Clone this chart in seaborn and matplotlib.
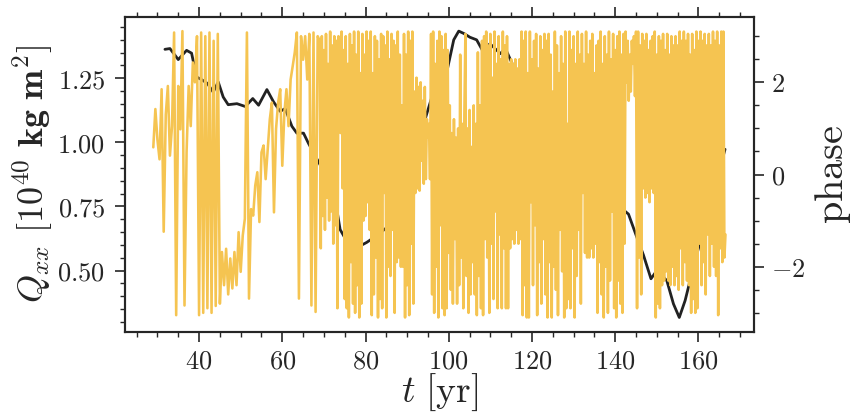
import numpy as np
import pandas as pd
import matplotlib
matplotlib.use('Agg')
import matplotlib.pyplot as plt
import seaborn as sns
from matplotlib.ticker import MultipleLocator, FuncFormatter

# Q_xx curve [1e40 kg m^2]
t_q = [31.8, 33.0, 35.0, 37.0, 38.2, 39.4, 40.6, 42.0, 43.4, 44.6, 45.8, 47.0,
       49.1, 51.1, 52.9, 54.3, 56.3, 57.9, 59.5, 60.7, 62.3, 63.5, 65.1, 66.3,
       68.5, 70.5, 72.3, 73.9, 76.0, 78.0, 80.3, 83.0, 85.5, 87.5, 89.1, 90.3,
       91.5, 93.1, 94.5, 96.3, 97.8, 99.6, 101.2, 102.4, 103.6, 105.1, 106.7,
       108.3, 109.9, 112.4, 113.6, 115.6, 118.4, 119.6, 122.0, 124.4, 127.0,
       129.6, 132.0, 134.5, 137.1, 138.8, 141.0, 143.2, 145.2, 146.8, 148.6,
       150.0, 152.4, 154.0, 155.4, 156.8, 158.8, 161.2, 162.8, 164.4, 166.4]
q_xx = [1.363, 1.366, 1.323, 1.359, 1.348, 1.255, 1.245, 1.23, 1.196, 1.236,
        1.177, 1.147, 1.151, 1.14, 1.171, 1.145, 1.206, 1.158, 1.121, 1.132,
        1.063, 1.036, 1.036, 0.996, 0.93, 0.87, 0.816, 0.66, 0.60, 0.59, 0.61,
        0.64, 0.673, 0.71, 0.751, 0.80, 0.88, 1.0, 1.1, 1.196, 1.25, 1.28, 1.40,
        1.434, 1.425, 1.41, 1.40, 1.353, 1.385, 1.346, 1.367, 1.294, 1.203,
        1.125, 1.06, 1.02, 0.99, 0.97, 0.93, 0.90, 0.867, 0.80, 0.75, 0.72,
        0.63, 0.56, 0.468, 0.50, 0.461, 0.37, 0.317, 0.383, 0.513, 0.66, 0.777,
        0.855, 0.973]

# phase, every half year from t = 29 to 68.5
phase_early = [
    0.59, 1.42, 0.75, 0.33, 1.85, -1.24, 1.30, 1.92, 0.41, 1.05,
    3.08, -3.05, 1.92, 0.98, 3.11, -2.84, 0.49, 1.92, 1.05, 2.43,
    2.0, 3.0, -3.05, 3.08, -3.0, 3.0, -2.9, 3.08, -3.0, 2.9,
    -2.85, 3.05, -2.8, -1.68, -2.4, -1.61, -2.6, -1.82, -2.47, -1.68,
    -2.4, -1.25, -2.11, -1.32, -0.96, 3.08, -2.69, -0.75, -0.89, -0.24,
    0.05, -1.03, 0.48, 0.63, -0.1, 0.55, 1.2, 1.56, -0.82, 0.99,
    1.56, 1.85, 0.19, 1.34, 1.85, 1.05, 2.06, 2.35, 2.65, 3.08,
    -2.69, 3.0, 2.49, 3.0, 2.06, 3.05, -2.84, 3.08, -2.98, 3.0,
]
# phase, every quarter year from t = 69 to 166.5
phase_late = [
    2.9, -1.6, 3.0, -0.9, 2.7, -1.2, 3.05, -0.5, 2.4, -1.0, 3.1, -0.8, 2.8, -1.5, 3.0, -1.1, 2.9, -2.9, 3.0, 1.2,
    0.9, 3.1, -0.3, 2.7, -2.7, 3.0, -2.9, 2.4, -3.1, 3.05, -1.9, 2.8, -2.8, 3.1, -3.0, 2.6, -2.4, 3.1, -3.1, 2.2,
    -2.8, 3.05, -1.0, 2.6, -0.9, 3.1, -0.6, 2.9, -1.2, 3.1, -3.05, 2.2, -2.6, 3.0, -1.8, 2.9, -3.1, 2.5, -2.7, 3.05,
    -2.9, 3.0, -0.4, 2.8, -3.1, 3.1, -2.0, 2.5, -2.2, 3.05, -1.2, 2.9, -3.0, 2.8, -1.9, 3.1, -1.8, 2.6, -2.0, 1.5,
    -2.0, 3.05, -3.1, 2.6, -2.4, 3.1, -3.05, 2.9, -1.5, 3.1, -2.8, 1.8, -0.4, 2.1, -0.3, 1.9, -0.35, 2.0, 0.3, 1.6,
    -0.2, 1.9, -0.1, 1.2, 0.8, 1.1, -0.1, 3.05, -2.6, 3.1, -3.0, 2.4, -2.0, 2.9, -3.1, 3.1, -1.1, 3.0, -2.9, 2.7,
    -3.05, 3.05, -2.9, 2.7, -1.7, 1.5, -2.5, 0.9, -2.8, 1.2, -1.4, 0.8, -2.8, 1.0, -2.4, 2.6, -1.8, 1.1, -2.9, 1.3,
    3.05, -2.2, 1.0, -3.0, 1.4, -2.6, 0.6, -1.9, 1.5, -2.6, 1.1, -3.05, 2.65, -2.2, 1.5, -2.9, 2.9, -3.05, 3.0, -1.4,
    3.1, -1.8, 2.8, -3.0, 3.05, -1.5, 2.1, -2.7, 3.1, -0.8, 2.4, -2.9, 3.0, -1.3, 2.5, -2.9, 3.1, -1.6, 2.8, -2.9,
    3.0, -2.9, 2.4, -1.6, 2.5, -1.4, 2.4, -1.5, 2.5, -1.2, 2.3, -1.5, 2.5, -1.4, 3.1, -3.05, 2.9, -2.4, 3.1, -3.1,
    2.2, -3.1, 3.1, -0.6, 2.5, -2.4, 2.9, -1.1, 3.05, -3.05, 2.3, -1.9, 3.0, -2.8, 2.7, -1.4, 3.05, -2.6, 2.9, -3.1,
    3.05, -1.9, 2.6, -3.1, 1.8, -2.0, 3.1, -2.5, 2.8, -3.05, 2.2, -1.2, 3.0, -2.1, 2.4, -3.1, 3.1, -2.9, 1.1, -2.7,
    3.1, -2.9, 2.7, -1.6, 3.0, -3.1, 2.4, -2.2, 3.1, -1.2, 2.6, -2.8, 3.05, -0.4, 2.4, -1.7, 3.1, -1.8, 2.6, -1.8,
    2.9, -1.6, 3.05, -1.8, 2.2, -1.5, 2.8, -3.0, 2.9, -1.9, 3.1, -2.6, 2.4, -3.1, 3.0, -2.0, 2.6, -3.0, 3.1, -2.3,
    2.5, -0.8, 3.05, -2.9, 2.7, -3.1, 3.0, -2.3, 3.1, -2.8, 2.6, -3.0, 3.05, -1.5, 3.1, 2.0, 2.9, 1.6, 2.6, 1.8,
    2.9, 2.4, 3.0, 1.7, 3.1, -2.9, 3.1, -1.8, 2.8, -2.6, 3.05, -0.3, 2.9, -0.5, 3.05, -0.4, 2.7, -0.6, 2.9, -0.3,
    3.0, -0.4, 3.1, -3.1, 2.6, -2.8, 3.0, -2.9, 2.9, -2.4, 3.05, -2.3, 2.7, -2.1, 3.05, -2.3, 2.6, -2.4, 3.0, -2.0,
    2.8, -2.4, 3.0, -2.2, 2.8, -2.5, 3.1, -1.6, 2.9, -2.4, 3.1, -1.9, 2.9, -2.3, 3.05, -2.4, 2.6, -3.0, 3.05, -2.7,
    2.7, -3.0, 3.1, -2.9, 2.9, -1.5, 3.1, -2.4, 2.9, -1.9, 3.05, -2.6, 2.8, -1.3, 3.05, -2.2, 2.8, -1.5, 3.1, -2.0,
    2.9, -2.2, 3.1, -3.05, 2.8, -1.6, 3.1, -1.9, 3.1, -1.8, -1.3,
]
t_phase = np.concatenate([29.0 + 0.5 * np.arange(len(phase_early)),
                          69.0 + 0.25 * np.arange(len(phase_late))])
phase = phase_early + phase_late

sns.set_style('ticks')
plt.rcParams['font.family'] = ['serif']
plt.rcParams['font.serif'] = ['DejaVu Serif']
plt.rcParams['mathtext.fontset'] = 'cm'
plt.rcParams['path.simplify'] = False  # keep every zigzag of the phase

fig = plt.figure(figsize=(8.54, 4.2), dpi=100)
ax = fig.add_axes([0.146, 0.21, 0.737, 0.75])

sns.lineplot(x=t_q, y=q_xx, ax=ax, color='#222222', lw=2.0)
ax2 = ax.twinx()
sns.lineplot(x=t_phase, y=phase, ax=ax2, color='#f5c451', lw=1.85)

ax.set_xlabel(r'$t\ [\mathrm{yr}]$', fontsize=27, labelpad=-1)
ax.set_ylabel(r'$Q_{xx}\ \mathbf{[10^{40}\ kg\ m^{2}]}$', fontsize=26, labelpad=2)
ax2.set_ylabel(r'$\mathrm{phase}$', fontsize=29, labelpad=6)

ax.xaxis.set_major_locator(MultipleLocator(20))
ax.xaxis.set_minor_locator(MultipleLocator(5))
ax.yaxis.set_major_locator(MultipleLocator(0.25))
ax.yaxis.set_minor_locator(MultipleLocator(0.05))
ax2.yaxis.set_major_locator(MultipleLocator(2))
ax2.yaxis.set_minor_locator(MultipleLocator(0.5))

ax.xaxis.set_major_formatter(FuncFormatter(lambda v, p: f'${v:.0f}$'))
ax.yaxis.set_major_formatter(FuncFormatter(lambda v, p: f'${v:.2f}$'))
ax2.yaxis.set_major_formatter(FuncFormatter(lambda v, p: f'${v:.0f}$'))

ax.tick_params(axis='x', which='both', top=True, direction='out')
ax.tick_params(which='major', length=7, width=1.2, labelsize=19, pad=5)
ax.tick_params(axis='y', which='major', pad=7)
ax.tick_params(which='minor', length=3.5, width=1.0)
ax2.tick_params(which='major', length=7, width=1.2, labelsize=19, pad=5)
ax2.tick_params(which='minor', length=3.5, width=1.0)

for a in (ax, ax2):
    for s in a.spines.values():
        s.set_linewidth(1.5)
        s.set_visible(True)

fig.savefig('out.png', dpi=100)
